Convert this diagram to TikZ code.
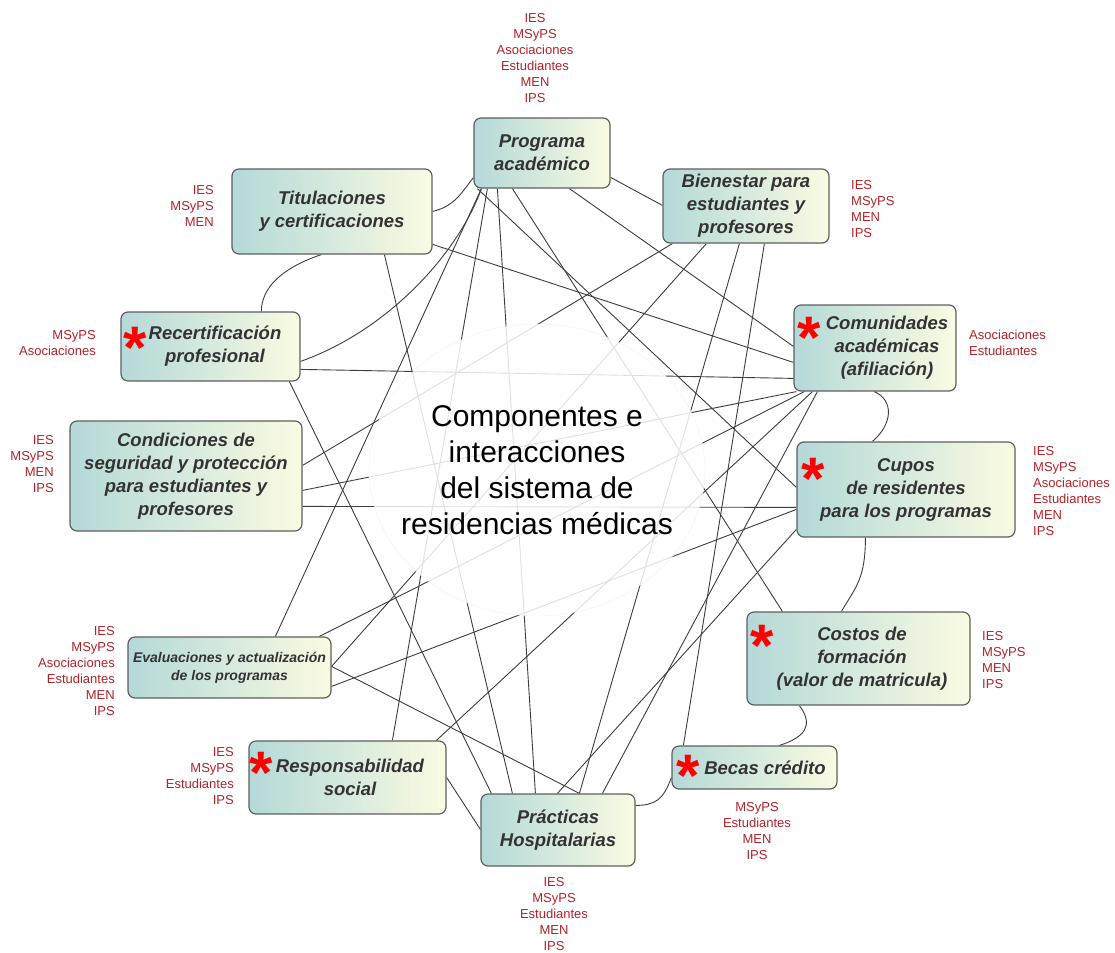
\documentclass[tikz,border=0pt]{standalone}
\usepackage{fontspec}
\setmainfont{Liberation Sans}
\usetikzlibrary{calc}
\pgfdeclarelayer{lines}
\pgfdeclarelayer{veil}
\pgfsetlayers{lines,veil,main}
\definecolor{lblred}{RGB}{178,34,40}
\definecolor{boxL}{RGB}{180,217,216}
\definecolor{boxR}{RGB}{250,251,226}
\definecolor{txt}{RGB}{51,51,51}
\definecolor{edgec}{RGB}{60,60,60}
\definecolor{borderc}{RGB}{95,95,95}
\tikzset{
 box/.style={draw=borderc, line width=1.2pt, rounded corners=7pt, left color=boxL, right color=boxR, align=center, text=txt, font=\fontsize{18.5}{23}\selectfont\bfseries\itshape, inner sep=0pt},
 lbl/.style={text=lblred, font=\fontsize{13}{16}\selectfont, inner sep=0pt},
 redstar/.style={text=red, font=\fontsize{60}{60}\selectfont\bfseries, inner sep=0pt, anchor=north},
 link/.style={draw=edgec, line width=0.9pt},
}
\begin{document}
\begin{tikzpicture}[x=1pt,y=-1pt]
\useasboundingbox (0,0) rectangle (1115,952);
% boxes
\node[box, minimum width=136pt, minimum height=70pt] (P) at (542,153) {Programa\\académico};
\node[box, minimum width=200pt, minimum height=85pt] (T) at (332,211.5) {Titulaciones\\y certificaciones};
\node[box, minimum width=166pt, minimum height=74pt] (B) at (746,206) {Bienestar para\\estudiantes y\\profesores};
\node[box, minimum width=179pt, minimum height=69pt] (R) at (210.5,346.5) {\hspace*{9pt}Recertificación\\\hspace*{9pt}profesional};
\node[box, minimum width=162pt, minimum height=86pt] (CA) at (875,348) {\hspace*{24pt}Comunidades\\\hspace*{24pt}académicas\\\hspace*{24pt}(afiliación)};
\node[box, minimum width=218pt, minimum height=95pt] (CU) at (906,489.5) {Cupos\\de residentes\\para los programas};
\node[box, minimum width=232pt, minimum height=110pt] (C) at (186,476) {Condiciones de\\seguridad y protección\\para estudiantes y\\profesores};
\node[box, minimum width=203pt, minimum height=61pt, font=\fontsize{14}{18}\selectfont\bfseries\itshape] (E) at (229.5,667.5) {Evaluaciones y actualización\\de los programas};
\node[box, minimum width=197pt, minimum height=73pt] (RS) at (347.5,777.5) {\hspace*{5pt}Responsabilidad\\\hspace*{5pt}social};
\node[box, minimum width=223pt, minimum height=93pt] (CO) at (858.5,658.5) {\hspace*{7pt}Costos de\\\hspace*{7pt}formación\\\hspace*{7pt}(valor de matricula)};
\node[box, minimum width=165pt, minimum height=43pt] (BC) at (754.5,767.5) {\hspace*{21pt}Becas crédito};
\node[box, minimum width=154pt, minimum height=72pt] (PH) at (558,830) {Prácticas\\Hospitalarias};
% asterisks
\node[redstar] (s1) at (135,327) {*};
\node[redstar] (s2) at (809,317) {*};
\node[redstar] (s3) at (813,458) {*};
\node[redstar] (s4) at (762,625) {*};
\node[redstar] (s5) at (688,755) {*};
\node[redstar] (s6) at (261,752) {*};
% title
\node[font=\fontsize{30}{36}\selectfont, align=center, inner sep=0pt] (title) at (537,470) {Componentes e\\interacciones\\del sistema de\\residencias médicas};
% labels
\node[lbl, anchor=north, align=center] (lP) at (535,13) {IES\\MSyPS\\Asociaciones\\Estudiantes\\MEN\\IPS};
\node[lbl, anchor=north east, align=right] (lT) at (214,185) {IES\\MSyPS\\MEN};
\node[lbl, anchor=north east, align=right] (lR) at (96,330) {MSyPS\\Asociaciones};
\node[lbl, anchor=north west, align=left] (lB) at (851,180) {IES\\MSyPS\\MEN\\IPS};
\node[lbl, anchor=north west, align=left] (lCA) at (969,330) {Asociaciones\\Estudiantes};
\node[lbl, anchor=north west, align=left] (lCU) at (1033,446) {IES\\MSyPS\\Asociaciones\\Estudiantes\\MEN\\IPS};
\node[lbl, anchor=north east, align=right] (lC) at (54,435) {IES\\MSyPS\\MEN\\IPS};
\node[lbl, anchor=north east, align=right] (lE) at (115,626) {IES\\MSyPS\\Asociaciones\\Estudiantes\\MEN\\IPS};
\node[lbl, anchor=north east, align=right] (lRS) at (234,747) {IES\\MSyPS\\Estudiantes\\IPS};
\node[lbl, anchor=north west, align=left] (lCO) at (982,631) {IES\\MSyPS\\MEN\\IPS};
\node[lbl, anchor=north, align=center] (lBC) at (757,802) {MSyPS\\Estudiantes\\MEN\\IPS};
\node[lbl, anchor=north, align=center] (lPH) at (554,877) {IES\\MSyPS\\Estudiantes\\MEN\\IPS};
% veil over the centre
\begin{pgfonlayer}{veil}
\fill[white, fill opacity=0.84, draw=black!10, draw opacity=0.5] (537,470) ellipse [x radius=168pt, y radius=146pt];
\end{pgfonlayer}
% connectors
\begin{pgfonlayer}{lines}
\draw[link] ($(T.north east)+(0,43)$) .. controls +(22,-5) and +(-12,15) .. ($(P.south west)+(0,-11)$);
\draw[link] ($(P.north east)+(0,60)$) -- ($(B.north west)+(0,37)$);
\draw[link] ($(R.north east)+(0,50)$) .. controls +(90,-32) and +(-22,62) .. ($(P.south west)+(8,0)$);
\draw[link] ($(P.south west)+(8,0)$) -- ($(E.north west)+(148,0)$);
\draw[link] ($(P.south west)+(14,0)$) -- ($(RS.north west)+(144,0)$);
\draw[link] ($(P.south west)+(24,0)$) -- ($(PH.north west)+(55,0)$);
\draw[link] ($(P.south west)+(4,0)$) -- ($(CU.north west)+(0,46)$);
\draw[link] ($(P.south west)+(96,0)$) -- ($(CA.north west)+(0,42)$);
\draw[link] ($(P.south west)+(39,0)$) -- ($(CO.north west)+(36,0)$);
\draw[link] ($(T.south west)+(90,0)$) .. controls +(-42,14) and +(0,-22) .. ($(R.north west)+(141,0)$);
\draw[link] ($(T.north east)+(0,76)$) -- ($(CA.north west)+(0,58)$);
\draw[link] ($(T.south west)+(153,0)$) -- ($(PH.north west)+(32,0)$);
\draw[link] ($(R.north east)+(0,58)$) -- ($(CA.north west)+(0,74)$);
\draw[link] ($(R.south west)+(169,0)$) -- ($(PH.north west)+(11,0)$);
\draw[link] ($(B.south west)+(10,0)$) -- ($(C.north east)+(0,45)$);
\draw[link] ($(B.south west)+(44,0)$) -- ($(E.north east)+(0,30)$);
\draw[link] ($(B.south west)+(77,0)$) -- ($(PH.north west)+(99,0)$);
\draw[link] ($(B.south west)+(102,0)$) -- ($(BC.north west)+(12,0)$);
\draw[link] ($(C.north east)+(0,70)$) -- ($(CA.south west)+(3,0)$);
\draw[link] ($(C.north east)+(0,86)$) -- ($(CU.north west)+(0,66)$);
\draw[link] ($(E.north west)+(192,0)$) -- ($(CA.south west)+(11,0)$);
\draw[link] ($(E.north east)+(0,50)$) -- ($(CU.north west)+(0,68)$);
\draw[link] ($(E.north east)+(0,30)$) -- ($(PH.north west)+(99,0)$);
\draw[link] ($(RS.north west)+(188,0)$) -- ($(CA.south west)+(19,0)$);
\draw[link] ($(RS.north east)+(0,37)$) -- ($(PH.north west)+(0,36)$);
\draw[link] ($(CA.south west)+(24,0)$) -- ($(PH.north west)+(122,0)$);
\draw[link] ($(CA.south west)+(81,0)$) .. controls +(20,9) and +(20,-17) .. ($(CU.north west)+(76,0)$);
\draw[link] ($(CU.north west)+(0,88)$) -- ($(PH.north west)+(77,0)$);
\draw[link] ($(CU.south west)+(69,0)$) .. controls +(0,40) and +(15,-25) .. ($(CO.north west)+(95,0)$);
\draw[link] ($(CO.south west)+(53,0)$) .. controls +(15,20) and +(25,-8) .. ($(BC.north west)+(108,0)$);
\draw[link] ($(BC.north west)+(0,32)$) .. controls +(-8,22) and +(20,0) .. ($(PH.north east)+(0,12)$);
\end{pgfonlayer}
\end{tikzpicture}
\end{document}
